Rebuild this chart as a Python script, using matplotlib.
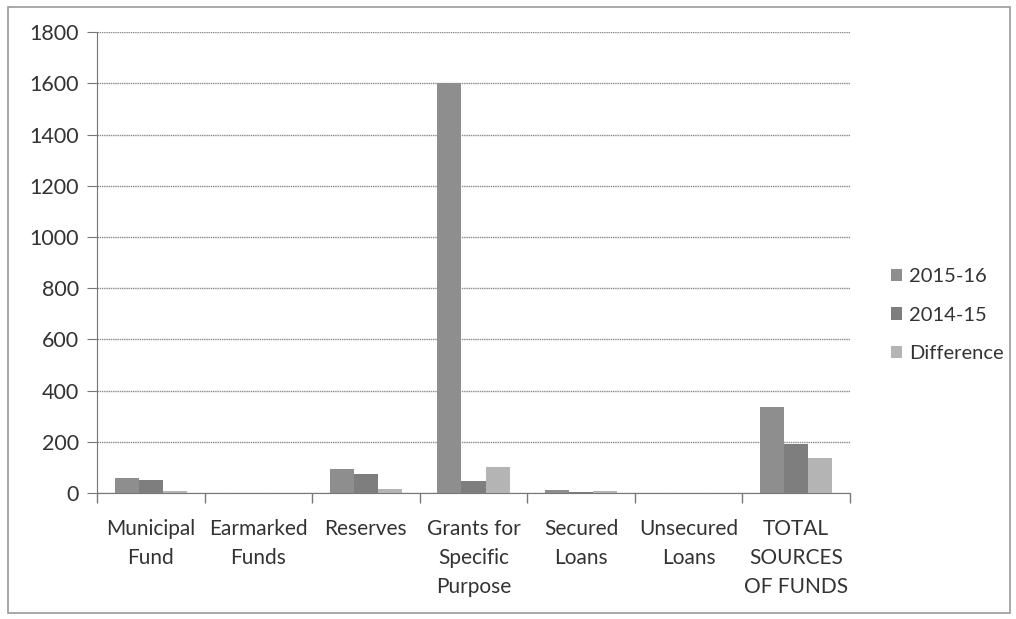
import matplotlib.pyplot as plt
from matplotlib.patches import Rectangle
import numpy as np

plt.rcParams['font.family'] = ['Lato', 'DejaVu Sans']

categories = ["Municipal\nFund", "Earmarked\nFunds", "Reserves", "Grants for\nSpecific\nPurpose",
              "Secured\nLoans", "Unsecured\nLoans", "TOTAL\nSOURCES\nOF FUNDS"]
y2015_16 = [58, 0, 94, 1600, 12, 0, 335]
y2014_15 = [50, 0, 76, 47, 3, 0, 190]
difference = [6, 0, 15, 100, 8, 0, 135]
series_names = ["2015-16", "2014-15", "Difference"]
colors = ["#8e8e8e", "#7e7e7e", "#b4b4b4"]

fig = plt.figure(figsize=(10.16, 6.19), dpi=100)
ax = fig.add_axes([0.0955, 0.2036, 0.741, 0.7444])

x = np.arange(len(categories))
w = 0.225
for i, (vals, name) in enumerate(zip([y2015_16, y2014_15, difference], series_names)):
    ax.bar(x + (i - 1) * w, vals, width=w, color=colors[i], label=name, zorder=3)

ax.set_xlim(-0.5, len(categories) - 0.5)
ax.set_ylim(0, 1800)
ax.set_yticks(range(0, 1801, 200))
ax.yaxis.grid(True, color="#8a8a8a", linestyle=(0, (1, 0.6)), linewidth=1, zorder=0)

# category labels centred, tick marks at boundaries
ax.set_xticks(x)
ax.set_xticklabels(categories, fontsize=15, color="#333333", linespacing=1.55)
ax.tick_params(axis='x', length=0, pad=19)
ax.set_xticks(np.arange(-0.5, len(categories)), minor=True)
ax.tick_params(axis='x', which='minor', length=7, color="#777777", width=1)
ax.tick_params(axis='y', labelsize=15.5, labelcolor="#333333", length=7, color="#777777", pad=6)

for s in ["top", "right"]:
    ax.spines[s].set_visible(False)
for s in ["left", "bottom"]:
    ax.spines[s].set_color("#777777")
    ax.spines[s].set_linestyle((0, (1, 0.5)))

leg = ax.legend(loc="center left", bbox_to_anchor=(1.03, 0.386), frameon=False, fontsize=14.5,
                handlelength=0.55, handleheight=0.55, handletextpad=0.35, labelspacing=1.05)
for t in leg.get_texts():
    t.set_color("#333333")

fig.patches.append(Rectangle((8 / 1016, 6 / 619), 1002 / 1016, 606 / 619, transform=fig.transFigure,
                             fill=False, edgecolor="#999999", linewidth=1.2))

fig.savefig("out.png", dpi=100)
